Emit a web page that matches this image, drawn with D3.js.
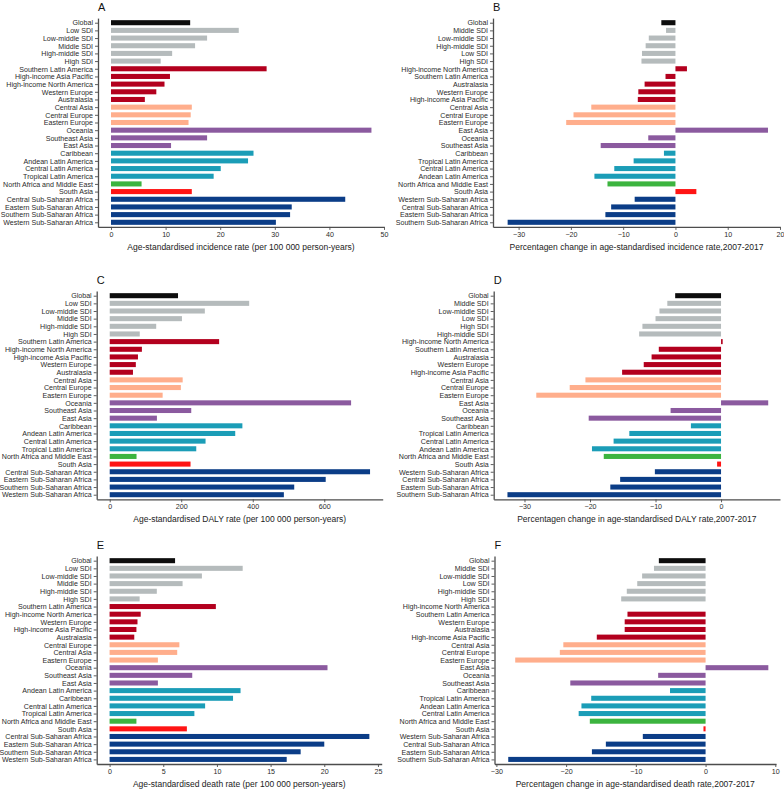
<!DOCTYPE html>
<html><head><meta charset="utf-8">
<script src="https://cdn.jsdelivr.net/npm/d3@7/dist/d3.min.js"></script>
<style>
html,body{margin:0;padding:0;background:#fff;}
svg{display:block;font-family:"Liberation Sans",Arial,sans-serif;}
</style></head>
<body>
<svg id="chart" width="784" height="789"></svg>
<script>
const catsA = ["Global","Low SDI","Low-middle SDI","Middle SDI","High-middle SDI","High SDI","Southern Latin America","High-income Asia Pacific","High-income North America","Western Europe","Australasia","Central Asia","Central Europe","Eastern Europe","Oceania","Southeast Asia","East Asia","Caribbean","Andean Latin America","Central Latin America","Tropical Latin America","North Africa and Middle East","South Asia","Central Sub-Saharan Africa","Eastern Sub-Saharan Africa","Southern Sub-Saharan Africa","Western Sub-Saharan Africa"];
const valsA = [14.5,23.4,17.6,15.4,11.2,9.1,28.5,10.8,9.8,8.3,6.2,14.8,14.6,14.2,47.7,17.6,11.0,26.1,25.1,20.1,18.8,5.6,14.8,42.9,33.1,32.8,30.2];

const catsB = ["Global","Middle SDI","Low-middle SDI","High-middle SDI","Low SDI","High SDI","High-income North America","Southern Latin America","Australasia","Western Europe","High-income Asia Pacific","Central Asia","Central Europe","Eastern Europe","East Asia","Oceania","Southeast Asia","Caribbean","Tropical Latin America","Central Latin America","Andean Latin America","North Africa and Middle East","South Asia","Western Sub-Saharan Africa","Central Sub-Saharan Africa","Eastern Sub-Saharan Africa","Southern Sub-Saharan Africa"];
const valsB = [-2.7,-1.8,-5.1,-5.7,-6.4,-6.5,2.2,-1.9,-5.9,-7.1,-7.2,-16.1,-19.5,-20.9,17.7,-5.2,-14.3,-2.2,-8.0,-11.7,-15.5,-13.0,4.0,-7.8,-12.3,-13.4,-32.1];

const catsC = ["Global","Low SDI","Low-middle SDI","Middle SDI","High-middle SDI","High SDI","Southern Latin America","High-income North America","High-income Asia Pacific","Western Europe","Australasia","Central Asia","Central Europe","Eastern Europe","Oceania","Southeast Asia","East Asia","Caribbean","Andean Latin America","Central Latin America","Tropical Latin America","North Africa and Middle East","South Asia","Central Sub-Saharan Africa","Eastern Sub-Saharan Africa","Southern Sub-Saharan Africa","Western Sub-Saharan Africa"];
const valsC = [191,390,266,202,130,84,306,90,79,73,65,204,199,148,675,228,132,371,351,268,242,75,226,728,604,516,487];

const catsD = ["Global","Middle SDI","Low-middle SDI","Low SDI","High SDI","High-middle SDI","High-income North America","Southern Latin America","Australasia","Western Europe","High-income Asia Pacific","Central Asia","Central Europe","Eastern Europe","East Asia","Oceania","Southeast Asia","Caribbean","Tropical Latin America","Central Latin America","Andean Latin America","North Africa and Middle East","South Asia","Western Sub-Saharan Africa","Central Sub-Saharan Africa","Eastern Sub-Saharan Africa","Southern Sub-Saharan Africa"];
const valsD = [-7.0,-8.2,-9.4,-10.0,-12.0,-12.5,0.25,-9.5,-10.6,-11.8,-15.1,-20.7,-23.1,-28.2,7.2,-7.7,-20.2,-4.6,-14.0,-16.4,-19.7,-17.9,-0.6,-10.1,-15.4,-16.9,-32.6];

const catsE = ["Global","Low SDI","Low-middle SDI","Middle SDI","High-middle SDI","High SDI","Southern Latin America","High-income North America","Western Europe","High-income Asia Pacific","Australasia","Central Europe","Central Asia","Eastern Europe","Oceania","Southeast Asia","East Asia","Andean Latin America","Caribbean","Central Latin America","Tropical Latin America","North Africa and Middle East","South Asia","Central Sub-Saharan Africa","Eastern Sub-Saharan Africa","Southern Sub-Saharan Africa","Western Sub-Saharan Africa"];
const valsE = [6.1,12.4,8.6,6.8,4.4,2.8,9.9,2.9,2.6,2.5,2.3,6.5,6.3,4.5,20.3,7.7,4.5,12.2,11.5,8.9,7.9,2.5,7.2,24.2,20.0,17.8,16.5];

const catsF = ["Global","Middle SDI","Low-middle SDI","Low SDI","High-middle SDI","High SDI","High-income North America","Southern Latin America","Western Europe","Australasia","High-income Asia Pacific","Central Asia","Central Europe","Eastern Europe","East Asia","Oceania","Southeast Asia","Caribbean","Tropical Latin America","Andean Latin America","Central Latin America","North Africa and Middle East","South Asia","Western Sub-Saharan Africa","Central Sub-Saharan Africa","Eastern Sub-Saharan Africa","Southern Sub-Saharan Africa"];
const valsF = [-6.7,-7.4,-9.1,-9.8,-11.3,-12.1,0,-11.2,-11.6,-11.6,-15.6,-20.4,-20.9,-27.3,9.0,-6.8,-19.4,-5.1,-16.4,-17.8,-18.2,-16.6,-0.3,-9.0,-14.3,-16.3,-28.3];

const ticksA = [0,10,20,30,40,50];
const ticksB = [-30,-20,-10,0,10,20];
const ticksC = [0,200,400,600];
const ticksD = [-30,-20,-10,0];
const ticksE = [0,5,10,15,20,25];
const ticksF = [-30,-20,-10,0,10];

const titles = ["A","B","C","D","E","F"];
const xLabels = [
  "Age-standardised incidence rate (per 100 000 person-years)",
  "Percentagen change in age-standardised incidence rate,2007-2017",
  "Age-standardised DALY rate (per 100 000 person-years)",
  "Percentagen change in age-standardised DALY rate,2007-2017",
  "Age-standardised death rate (per 100 000 person-years)",
  "Percentagen change in age-standardised death rate,2007-2017"
];

const groupColor = {
  global:"#0d0d0d", sdi:"#b5bbbc", hi:"#b3001e", cee:"#ffae8c",
  sea:"#8b5a9f", lat:"#1b9db7", name:"#3cb43f", sa:"#ff1414", ssa:"#0b3d87"
};
function groupOf(c){
  if(c==="Global") return "global";
  if(c.includes("SDI")) return "sdi";
  if(["Southern Latin America","High-income Asia Pacific","High-income North America","Western Europe","Australasia"].includes(c)) return "hi";
  if(["Central Asia","Central Europe","Eastern Europe"].includes(c)) return "cee";
  if(["Oceania","Southeast Asia","East Asia"].includes(c)) return "sea";
  if(["Caribbean","Andean Latin America","Central Latin America","Tropical Latin America"].includes(c)) return "lat";
  if(c==="North Africa and Middle East") return "name";
  if(c==="South Asia") return "sa";
  return "ssa";
}

const panels = [
  {cats:catsA, vals:valsA, ticks:ticksA, domain:[-2.38,50.0], range:[98,384], yr:[18.1,226.9]},
  {cats:catsB, vals:valsB, ticks:ticksB, domain:[-34.9,20.0], range:[493,780], yr:[18.1,226.9]},
  {cats:catsC, vals:valsC, ticks:ticksC, domain:[-36.4,763.4], range:[96.7,382.7], yr:[291.1,499.3]},
  {cats:catsD, vals:valsD, ticks:ticksD, domain:[-34.7,9.0], range:[493.7,780], yr:[291.1,499.3]},
  {cats:catsE, vals:valsE, ticks:ticksE, domain:[-1.2,25.35], range:[96.7,381.7], yr:[556.1,764.0]},
  {cats:catsF, vals:valsF, ticks:ticksF, domain:[-30.27,10.1], range:[494.5,776], yr:[556.1,764.0]}
];

const svg = d3.select("#chart");

panels.forEach((p,i)=>{
  const g = svg.append("g");
  const x = d3.scaleLinear().domain(p.domain).range(p.range);
  const y = d3.scalePoint().domain(p.cats).range(p.yr).padding(0.6);
  const bh = y.step()*0.66;
  const data = p.cats.map((c,k)=>({c, v:p.vals[k]}));

  g.selectAll("rect").data(data).join("rect")
    .attr("x", d=>x(Math.min(0,d.v)))
    .attr("width", d=>Math.abs(x(d.v)-x(0)))
    .attr("y", d=>y(d.c)-bh/2)
    .attr("height", bh)
    .attr("fill", d=>groupColor[groupOf(d.c)]);

  const xa = g.append("g").attr("transform",`translate(0,${p.yr[1]})`)
    .call(d3.axisBottom(x).tickValues(p.ticks).tickSize(3).tickSizeOuter(0).tickPadding(2).tickFormat(d3.format("d")));
  const ya = g.append("g").attr("transform",`translate(${p.range[0]},0)`)
    .call(d3.axisLeft(y).tickSize(3).tickSizeOuter(0).tickPadding(2));
  [xa,ya].forEach(a=>{
    a.select(".domain").attr("stroke","#4d4d4d").attr("stroke-width",1.3);
    a.selectAll(".tick line").attr("stroke","#4d4d4d").attr("stroke-width",0.9);
    a.selectAll(".tick text").attr("fill","#2b2b2b").style("font-size","7.1px")
      .style("font-family","'Liberation Sans',Arial,sans-serif");
  });

  g.append("text").attr("x",(p.range[0]+p.range[1])/2).attr("y",p.yr[1]+23)
    .attr("text-anchor","middle").attr("fill","#222").style("font-size","8.5px")
    .text(xLabels[i]);
  g.append("text").attr("x",p.range[0]).attr("y",p.yr[0]-7.5)
    .attr("fill","#111").style("font-size","11px").text(titles[i]);
});
</script>
</body></html>
